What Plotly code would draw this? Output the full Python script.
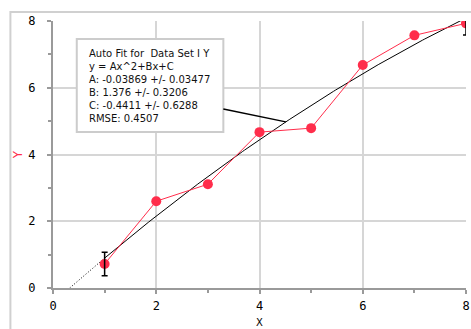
import numpy as np
import plotly.graph_objects as go

# ---- data ----
x_vals = [1, 2, 3, 4, 5, 6, 7, 8]
y_vals = [0.72, 2.60, 3.11, 4.67, 4.79, 6.68, 7.57, 7.93]
err_x = [1, 8]
err_y = [0.72, 7.93]
err_size = [0.35, 0.35]
coef_A, coef_B, coef_C = -0.03869, 1.376, -0.4411
fit_lines = [
    "Auto Fit for  Data Set I Y",
    "y = Ax^2+Bx+C",
    "A: -0.03869 +/- 0.03477",
    "B: 1.376 +/- 0.3206",
    "C: -0.4411 +/- 0.6288",
    "RMSE: 0.4507",
]
x_ticks = [0, 2, 4, 6, 8]
y_ticks = [0, 2, 4, 6, 8]

W, H = 471, 329
L, R, T, B = 53, 1, 21, 41
pw, ph = W - L - R, H - T - B


def px_x(p):
    return (p - L) / pw


def px_y(p):
    return (H - B - p) / ph


def fit(x):
    x = np.asarray(x, dtype=float)
    return coef_A * x ** 2 + coef_B * x + coef_C


# x intercept of fit
roots = np.roots([coef_A, coef_B, coef_C])
x0 = float(min(r.real for r in roots if r.real > 0))

xs_solid = np.linspace(1, 8, 200)
xs_dot = np.linspace(x0, 1, 30)

red = "#ff2d4b"
fig = go.Figure()
fig.add_trace(go.Scatter(x=xs_dot, y=fit(xs_dot), mode="lines",
                         line=dict(color="black", width=1, dash="1px,2px"),
                         hoverinfo="skip", showlegend=False))
fig.add_trace(go.Scatter(x=xs_solid, y=fit(xs_solid), mode="lines",
                         line=dict(color="black", width=1),
                         hoverinfo="skip", showlegend=False))
fig.add_trace(go.Scatter(x=x_vals, y=y_vals, mode="lines+markers",
                         line=dict(color=red, width=1),
                         marker=dict(color=red, size=10),
                         showlegend=False))
fig.add_trace(go.Scatter(x=err_x, y=err_y, mode="markers",
                         marker=dict(size=1, color="rgba(0,0,0,0)"),
                         error_y=dict(type="data", array=err_size, color="black",
                                      thickness=1.5, width=3),
                         showlegend=False))

axis_common = dict(
    showgrid=True, gridcolor="#d6d6d6", gridwidth=1.5,
    showline=True, linecolor="#9a9a9a", linewidth=2,
    ticks="outside", ticklen=4, tickcolor="#9a9a9a", tickwidth=1.5,
    zeroline=False, ticklabeloverflow="allow",
    tickfont=dict(family="DejaVu Sans Mono", size=12, color="black"),
    minor=dict(dtick=1, ticks="outside", ticklen=3, tickcolor="#9a9a9a", showgrid=False),
)
fig.update_xaxes(range=[0, 8], tickmode="array", tickvals=x_ticks,
                 ticktext=[str(v) for v in x_ticks], ticklabelstandoff=2, **axis_common)
fig.update_yaxes(range=[0, 8], tickmode="array", tickvals=y_ticks,
                 ticktext=[str(v) for v in y_ticks], ticklabelstandoff=9, **axis_common)

shapes = [
    # outer frame
    dict(type="rect", xref="paper", yref="paper",
         x0=px_x(10), y0=px_y(H + 20), x1=px_x(W + 20), y1=px_y(12),
         line=dict(color="#d0d0d0", width=2), fillcolor="rgba(0,0,0,0)", layer="below"),
    # fit info box
    dict(type="rect", xref="paper", yref="paper",
         x0=px_x(77), y0=px_y(132), x1=px_x(225), y1=px_y(39),
         line=dict(color="#cccccc", width=2), fillcolor="white", layer="above"),
    # leader line
    dict(type="line", xref="x", yref="y",
         x0=(225 - L) / (pw / 8), y0=(H - B - 109) / (ph / 8),
         x1=4.51, y1=float(fit(4.51)),
         line=dict(color="black", width=1.5), layer="above"),
]

annotations = [
    dict(text="<br>".join(fit_lines), xref="paper", yref="paper",
         x=px_x(87), y=px_y(86), xanchor="left", yanchor="middle", align="left",
         showarrow=False,
         font=dict(family="DejaVu Sans", size=10, color="#111111")),
    dict(text="Y", xref="paper", yref="paper", x=px_x(18), y=px_y(155),
         xanchor="center", yanchor="middle", textangle=-90, showarrow=False,
         font=dict(family="DejaVu Sans", size=12, color=red)),
    dict(text="X", xref="paper", yref="paper", x=px_x(262), y=px_y(329),
         xanchor="center", yanchor="bottom", showarrow=False, borderpad=0,
         font=dict(family="DejaVu Sans", size=10, color="black")),
]

fig.update_layout(
    width=W, height=H,
    margin=dict(l=L, r=R, t=T, b=B),
    paper_bgcolor="white", plot_bgcolor="white",
    shapes=shapes, annotations=annotations,
    showlegend=False,
)
fig.write_html("out.html")
